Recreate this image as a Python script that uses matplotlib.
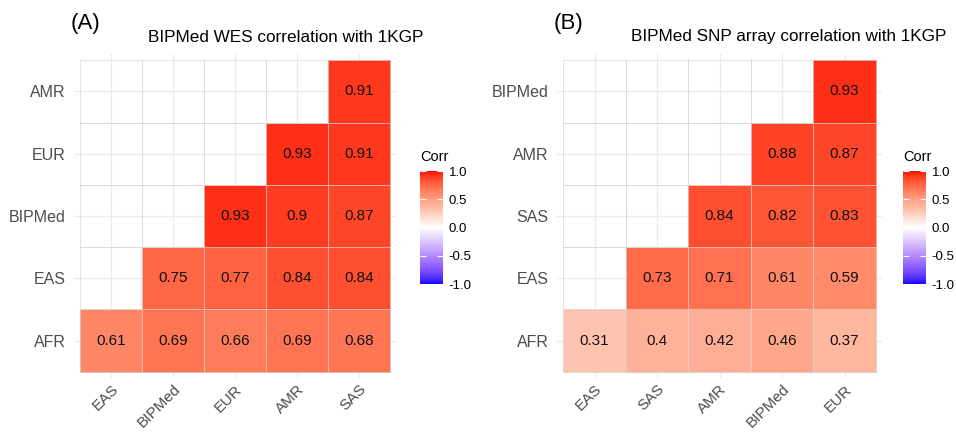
import numpy as np
import matplotlib
matplotlib.use('Agg')
import matplotlib.pyplot as plt
from matplotlib.colors import ListedColormap, Normalize

plt.rcParams['font.family'] = ['Liberation Sans', 'DejaVu Sans']

# panel A: BIPMed WES
wes_x = ['EAS', 'BIPMed', 'EUR', 'AMR', 'SAS']
wes_y = ['AFR', 'EAS', 'BIPMed', 'EUR', 'AMR']
wes_corr = [
    [0.61, 0.69, 0.66, 0.69, 0.68],
    [np.nan, 0.75, 0.77, 0.84, 0.84],
    [np.nan, np.nan, 0.93, 0.90, 0.87],
    [np.nan, np.nan, np.nan, 0.93, 0.91],
    [np.nan, np.nan, np.nan, np.nan, 0.91],
]

# panel B: BIPMed SNP array
snp_x = ['EAS', 'SAS', 'AMR', 'BIPMed', 'EUR']
snp_y = ['AFR', 'EAS', 'SAS', 'AMR', 'BIPMed']
snp_corr = [
    [0.31, 0.40, 0.42, 0.46, 0.37],
    [np.nan, 0.73, 0.71, 0.61, 0.59],
    [np.nan, np.nan, 0.84, 0.82, 0.83],
    [np.nan, np.nan, np.nan, 0.88, 0.87],
    [np.nan, np.nan, np.nan, np.nan, 0.93],
]


# blue - white - red gradient interpolated in Lab, like ggplot's gradient2
def srgb_to_lab(c):
    c = np.asarray(c, float)
    lin = np.where(c <= 0.04045, c / 12.92, ((c + 0.055) / 1.055) ** 2.4)
    M = np.array([[0.4124, 0.3576, 0.1805],
                  [0.2126, 0.7152, 0.0722],
                  [0.0193, 0.1192, 0.9505]])
    xyz = M @ lin / np.array([0.95047, 1.0, 1.08883])
    f = np.where(xyz > 0.008856, np.cbrt(xyz), 7.787 * xyz + 16 / 116)
    return np.array([116 * f[1] - 16, 500 * (f[0] - f[1]), 200 * (f[1] - f[2])])


def lab_to_srgb(lab):
    L, a, b = lab
    fy = (L + 16) / 116
    fx = fy + a / 500
    fz = fy - b / 200
    f = np.array([fx, fy, fz])
    xyz = np.where(f ** 3 > 0.008856, f ** 3, (f - 16 / 116) / 7.787)
    xyz = xyz * np.array([0.95047, 1.0, 1.08883])
    Minv = np.array([[3.2406, -1.5372, -0.4986],
                     [-0.9689, 1.8758, 0.0415],
                     [0.0557, -0.2040, 1.0570]])
    lin = Minv @ xyz
    c = np.where(lin <= 0.0031308, 12.92 * lin, 1.055 * np.clip(lin, 0, None) ** (1 / 2.4) - 0.055)
    return np.clip(c, 0, 1)


blue = srgb_to_lab([0, 0, 1])
white = srgb_to_lab([1, 1, 1])
red = srgb_to_lab([1, 0, 0])
cols = []
for t in np.linspace(0, 1, 256):
    if t < 0.5:
        s = t / 0.5
        lab = blue + (white - blue) * s
    else:
        s = (t - 0.5) / 0.5
        lab = white + (red - white) * s
    cols.append(lab_to_srgb(lab))
cmap = ListedColormap(cols)
norm = Normalize(-1, 1)

fig = plt.figure(figsize=(9.56, 4.34), dpi=100)
W, H = 956, 434


def fax(x0, y0, x1, y1):
    return fig.add_axes([x0 / W, 1 - y1 / H, (x1 - x0) / W, (y1 - y0) / H])


def panel(ax, xlabs, ylabs, corr):
    z = np.ma.masked_invalid(np.array(corr))
    n = len(xlabs)
    ax.set_xlim(0.4, n + 0.6)
    ax.set_ylim(0.4, n + 0.6)
    for i in range(1, n + 1):
        ax.axhline(i, color='#ebebeb', lw=0.9, zorder=0)
        ax.axvline(i, color='#ebebeb', lw=0.9, zorder=0)
    edges = np.arange(0.5, n + 1.0, 1.0)
    m = ax.pcolormesh(edges, edges, z, cmap=cmap, norm=norm,
                      edgecolors=(0.85, 0.85, 0.85, 0.7), linewidth=0.5, zorder=1)
    for r in range(n):
        for c in range(n):
            v = corr[r][c]
            if not np.isnan(v):
                ax.text(c + 1, r + 1, '{:g}'.format(v), ha='center', va='center',
                        fontsize=11, color='#111111', zorder=2)
    ax.set_xticks(range(1, n + 1))
    ax.set_xticklabels(xlabs, rotation=45, ha='right', va='top',
                       rotation_mode='anchor', fontsize=11, color='#4d4d4d')
    ax.set_yticks(range(1, n + 1))
    ax.set_yticklabels(ylabs, fontsize=11.5, color='#4d4d4d')
    ax.tick_params(length=0, pad=6)
    ax.tick_params(axis='x', pad=3)
    for s in ax.spines.values():
        s.set_visible(False)
    return m


def legend(cax, m, x_title, y_title):
    cb = fig.colorbar(m, cax=cax, ticks=[-1, -0.5, 0, 0.5, 1])
    cb.outline.set_visible(False)
    cax.yaxis.set_ticks_position('both')
    cax.tick_params(direction='in', color='white', length=4, width=0.8,
                    labelleft=False, labelright=True, labelsize=9.5, pad=4)
    cb.ax.set_yticklabels(['-1.0', '-0.5', '0.0', '0.5', '1.0'])
    fig.text(x_title / W, 1 - y_title / H, 'Corr', fontsize=10.5, ha='left', va='center')


axA = fax(74, 54, 396, 378)
mA = panel(axA, wes_x, wes_y, wes_corr)
legend(fax(420, 171, 443, 284), mA, 420, 157)
fig.text(286 / W, 1 - 37 / H, 'BIPMed WES correlation with 1KGP', fontsize=12.3,
         ha='center', va='center')
fig.text(71 / W, 1 - 23 / H, '(A)', fontsize=16, ha='left', va='center')

axB = fax(557, 54, 882, 378)
mB = panel(axB, snp_x, snp_y, snp_corr)
legend(fax(903, 171, 926, 284), mB, 903, 157)
fig.text(789 / W, 1 - 37 / H, 'BIPMed SNP array correlation with 1KGP', fontsize=12.3,
         ha='center', va='center')
fig.text(554 / W, 1 - 23 / H, '(B)', fontsize=16, ha='left', va='center')

fig.savefig('out.png', dpi=100)
